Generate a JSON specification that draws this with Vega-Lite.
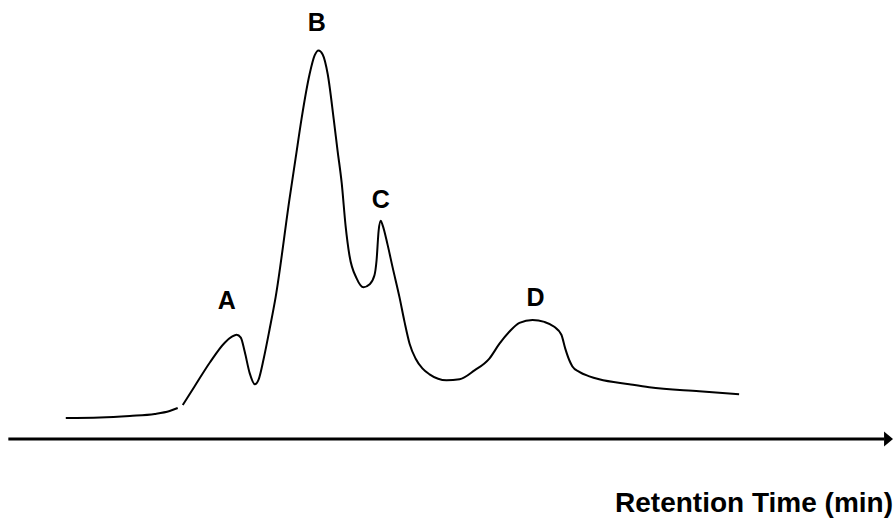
{
  "$schema": "https://vega.github.io/schema/vega-lite/v6.json",
  "width": 894,
  "height": 519,
  "padding": 0,
  "autosize": {"type": "fit", "contains": "padding"},
  "background": "white",
  "config": {"view": {"stroke": null}},
  "datasets": {
    "curve": [
      {"seg": 1, "t": 2.21, "s": 5.3},
      {"seg": 1, "t": 3.36, "s": 5.42},
      {"seg": 1, "t": 4.36, "s": 5.8},
      {"seg": 1, "t": 5.2, "s": 6.3},
      {"seg": 1, "t": 5.7, "s": 7.05},
      {"seg": 1, "t": 5.97, "s": 7.8},
      {"seg": 2, "t": 6.14, "s": 8.55},
      {"seg": 2, "t": 6.54, "s": 13.31},
      {"seg": 2, "t": 7.05, "s": 19.32},
      {"seg": 2, "t": 7.55, "s": 24.33},
      {"seg": 2, "t": 7.79, "s": 25.84},
      {"seg": 2, "t": 7.95, "s": 26.34},
      {"seg": 2, "t": 8.09, "s": 25.59},
      {"seg": 2, "t": 8.22, "s": 22.08},
      {"seg": 2, "t": 8.39, "s": 16.57},
      {"seg": 2, "t": 8.56, "s": 13.81},
      {"seg": 2, "t": 8.69, "s": 15.06},
      {"seg": 2, "t": 8.86, "s": 20.33},
      {"seg": 2, "t": 9.06, "s": 27.84},
      {"seg": 2, "t": 9.26, "s": 35.85},
      {"seg": 2, "t": 9.73, "s": 60.9},
      {"seg": 2, "t": 9.93, "s": 70.92},
      {"seg": 2, "t": 10.13, "s": 80.94},
      {"seg": 2, "t": 10.4, "s": 92.21},
      {"seg": 2, "t": 10.57, "s": 96.97},
      {"seg": 2, "t": 10.7, "s": 98.23},
      {"seg": 2, "t": 10.84, "s": 97.22},
      {"seg": 2, "t": 11.01, "s": 92.21},
      {"seg": 2, "t": 11.21, "s": 80.94},
      {"seg": 2, "t": 11.34, "s": 72.93},
      {"seg": 2, "t": 11.48, "s": 64.66},
      {"seg": 2, "t": 11.61, "s": 53.89},
      {"seg": 2, "t": 11.74, "s": 46.38},
      {"seg": 2, "t": 11.98, "s": 40.61},
      {"seg": 2, "t": 12.21, "s": 38.36},
      {"seg": 2, "t": 12.42, "s": 39.11},
      {"seg": 2, "t": 12.58, "s": 41.37},
      {"seg": 2, "t": 12.65, "s": 45.12},
      {"seg": 2, "t": 12.72, "s": 52.64},
      {"seg": 2, "t": 12.79, "s": 55.14},
      {"seg": 2, "t": 12.85, "s": 54.14},
      {"seg": 2, "t": 13.02, "s": 49.13},
      {"seg": 2, "t": 13.19, "s": 43.37},
      {"seg": 2, "t": 13.42, "s": 35.85},
      {"seg": 2, "t": 13.59, "s": 29.59},
      {"seg": 2, "t": 13.76, "s": 24.08},
      {"seg": 2, "t": 13.96, "s": 20.33},
      {"seg": 2, "t": 14.19, "s": 17.82},
      {"seg": 2, "t": 14.43, "s": 16.32},
      {"seg": 2, "t": 15.0, "s": 14.81},
      {"seg": 2, "t": 15.44, "s": 15.06},
      {"seg": 2, "t": 15.94, "s": 17.32},
      {"seg": 2, "t": 16.44, "s": 20.32},
      {"seg": 2, "t": 16.78, "s": 24.08},
      {"seg": 2, "t": 17.11, "s": 27.09},
      {"seg": 2, "t": 17.45, "s": 29.34},
      {"seg": 2, "t": 17.89, "s": 30.09},
      {"seg": 2, "t": 18.29, "s": 29.59},
      {"seg": 2, "t": 18.62, "s": 28.34},
      {"seg": 2, "t": 18.86, "s": 26.34},
      {"seg": 2, "t": 18.99, "s": 22.83},
      {"seg": 2, "t": 19.13, "s": 19.82},
      {"seg": 2, "t": 19.23, "s": 18.32},
      {"seg": 2, "t": 19.46, "s": 16.94},
      {"seg": 2, "t": 19.8, "s": 15.82},
      {"seg": 2, "t": 20.13, "s": 15.06},
      {"seg": 2, "t": 21.14, "s": 13.81},
      {"seg": 2, "t": 21.81, "s": 13.06},
      {"seg": 2, "t": 23.49, "s": 12.06},
      {"seg": 2, "t": 24.83, "s": 11.31}
    ],
    "peaks": [
      {"t": 7.62, "s": 34.85, "name": "A"},
      {"t": 10.64, "s": 105.24, "name": "B"},
      {"t": 12.79, "s": 60.4, "name": "C"},
      {"t": 17.99, "s": 35.6, "name": "D"}
    ],
    "axisline": [
      {"t0": 0.28, "t1": 29.7, "s": 0}
    ],
    "arrow": [
      {"t": 29.85, "s": 0}
    ],
    "title": [
      {"t": 30, "s": -18.5, "label": "Retention Time (min)"}
    ]
  },
  "layer": [
    {
      "data": {"name": "axisline"},
      "mark": {"type": "rule", "color": "black", "strokeWidth": 3},
      "encoding": {
        "x": {"field": "t0", "type": "quantitative", "scale": {"domain": [0, 30]}, "axis": null},
        "x2": {"field": "t1"},
        "y": {"field": "s", "type": "quantitative", "scale": {"domain": [-19, 111]}, "axis": null}
      }
    },
    {
      "data": {"name": "arrow"},
      "mark": {"type": "point", "shape": "M-0.6,-1L0.6,0L-0.6,1Z", "filled": true, "color": "black", "opacity": 1, "size": 225, "strokeWidth": 0},
      "encoding": {
        "x": {"field": "t", "type": "quantitative", "scale": {"domain": [0, 30]}, "axis": null},
        "y": {"field": "s", "type": "quantitative", "scale": {"domain": [-19, 111]}, "axis": null}
      }
    },
    {
      "data": {"name": "curve"},
      "mark": {"type": "line", "color": "black", "strokeWidth": 2, "interpolate": "monotone"},
      "encoding": {
        "x": {"field": "t", "type": "quantitative", "scale": {"domain": [0, 30]}, "axis": null},
        "y": {"field": "s", "type": "quantitative", "scale": {"domain": [-19, 111]}, "axis": null},
        "detail": {"field": "seg", "type": "nominal"}
      }
    },
    {
      "data": {"name": "peaks"},
      "mark": {"type": "text", "font": "Liberation Sans", "fontWeight": "bold", "fontSize": 25, "color": "black", "baseline": "middle", "align": "center"},
      "encoding": {
        "x": {"field": "t", "type": "quantitative", "scale": {"domain": [0, 30]}, "axis": null},
        "y": {"field": "s", "type": "quantitative", "scale": {"domain": [-19, 111]}, "axis": null},
        "text": {"field": "name"}
      }
    },
    {
      "data": {"name": "title"},
      "mark": {"type": "text", "font": "Liberation Sans", "fontWeight": "bold", "fontSize": 28, "color": "black", "baseline": "alphabetic", "align": "right"},
      "encoding": {
        "x": {"field": "t", "type": "quantitative", "scale": {"domain": [0, 30]}, "axis": null},
        "y": {"field": "s", "type": "quantitative", "scale": {"domain": [-19, 111]}, "axis": null},
        "text": {"field": "label"}
      }
    }
  ]
}
